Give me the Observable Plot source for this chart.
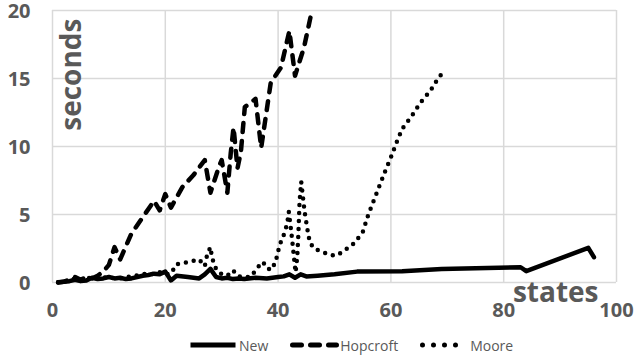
<!DOCTYPE html>
<html>
<head>
<meta charset="utf-8">
<script src="https://cdn.jsdelivr.net/npm/d3@7"></script>
<script src="https://cdn.jsdelivr.net/npm/@observablehq/plot@0.6"></script>
<style>
  html, body { margin: 0; padding: 0; background: #fff; }
  body { width: 635px; height: 360px; overflow: hidden; font-family: "Open Sans", sans-serif; }
  #legend { display: flex; align-items: center; height: 30px; margin-left: 188px; font-size: 14px; color: #595959; }
  #legend .item { display: flex; align-items: center; margin-right: 22px; }
  #legend svg { display: block; margin-right: 1px; }
</style>
</head>
<body>
<div id="chart"></div>
<div id="legend"></div>
<script>
// ---- data ----
const seriesNames = ["New", "Hopcroft", "Moore"];
const xTicks = [0, 20, 40, 60, 80, 100];
const yTicks = [0, 5, 10, 15, 20];

const newStates = [1,3,4,5,6,7,8,9,10,11,12,13,14,16,17,18,19,20,21,22,24,26,27,28,29,30,31,32,33,34,36,38,40,41,42,43,44,45,47,50,54,62,69,83,84,95,96];
const newSeconds = [0.02,0.1,0.2,0.1,0.15,0.35,0.25,0.3,0.4,0.3,0.35,0.25,0.3,0.5,0.55,0.65,0.6,0.8,0.15,0.5,0.4,0.3,0.6,1.0,0.4,0.3,0.35,0.25,0.3,0.25,0.35,0.3,0.4,0.45,0.6,0.35,0.6,0.45,0.5,0.6,0.8,0.83,1.0,1.12,0.83,2.55,1.86];

const hopStates = [1,2,3,4,5,6,7,8,9,10,11,12,14,16,18,19,20,21,23,25,27,28,29.5,30,31,31.6,32.1,32.8,33.4,34.1,36,37,38.7,40.5,42,43,44.6,46];
const hopSeconds = [0,0.05,0.2,0.4,0.2,0.4,0.3,0.5,0.8,1.3,2.6,1.7,3.6,4.8,6.0,5.3,6.5,5.5,7.0,7.9,9.0,6.6,8.5,9.0,6.6,9.5,11.4,8.4,9.6,12.9,13.5,9.9,14.7,15.8,18.5,15.2,17.3,20];

const mooreStates = [1,3,4,5,6,7,8,10,12,14,16,17,18,19,20,21,22,24,26,27,27.4,28,28.3,29,30,31,32,33,35,36.3,37,38,38.5,39.5,40,40.5,41,41.6,41.9,42.2,42.5,42.8,43.1,43.4,43.6,43.8,44.1,44.4,44.7,45.2,45.6,46.3,47.6,49,50.3,51.5,53.5,55,56,57.5,59,60,61,62,63.7,65.2,67,68.5,69.4];
const mooreSeconds = [0.02,0.15,0.3,0.2,0.35,0.3,0.4,0.35,0.3,0.45,0.6,0.7,0.6,0.75,0.6,0.65,1.35,1.5,1.7,1.2,2.0,2.6,1.8,1.0,0.6,0.5,0.9,0.45,0.4,1.0,1.5,1.3,0.9,1.4,2.3,3.0,3.5,4.3,5.2,4.2,3.1,1.9,0.75,1.9,3.6,5.9,7.4,6.3,5.2,3.9,3.0,2.5,2.3,2.05,1.98,2.27,2.9,3.7,5.0,6.6,8.2,9.2,10.3,11.3,12.25,13.2,14.1,15.1,15.5];

const toRows = (xs, ys) => xs.map((x, i) => ({x, y: ys[i]}));
const newRows = toRows(newStates, newSeconds);
const hopRows = toRows(hopStates, hopSeconds);
const mooreRows = toRows(mooreStates, mooreSeconds);

const labelColor = "#595959";
const gridColor = "#d9d9d9";

const chart = Plot.plot({
  width: 635,
  height: 330,
  marginLeft: 52,
  marginRight: 19,
  marginTop: 10,
  marginBottom: 48,
  style: {fontFamily: "'Open Sans', sans-serif", overflow: "visible", background: "white"},
  x: {domain: [0, 100]},
  y: {domain: [0, 20]},
  marks: [
    Plot.gridX(xTicks, {stroke: gridColor, strokeOpacity: 1, strokeWidth: 1.5}),
    Plot.gridY(yTicks, {stroke: gridColor, strokeOpacity: 1, strokeWidth: 1.5}),
    Plot.axisX(xTicks, {tickSize: 0, tickPadding: 20, fontSize: 20, fontWeight: "bold", color: labelColor, label: null}),
    Plot.axisY(yTicks, {tickSize: 0, tickPadding: 22, dy: 1, fontSize: 20, fontWeight: "bold", color: labelColor, label: null}),
    Plot.line(newRows, {x: "x", y: "y", stroke: "black", strokeWidth: 4.5, strokeLinejoin: "round"}),
    Plot.line(hopRows, {x: "x", y: "y", stroke: "black", strokeWidth: 4.5, strokeDasharray: "9,9", strokeLinecap: "round", strokeLinejoin: "round"}),
    Plot.line(mooreRows, {x: "x", y: "y", stroke: "black", strokeWidth: 4.5, strokeDasharray: "0,8", strokeLinecap: "round", strokeLinejoin: "round"}),
    Plot.text(["seconds"], {frameAnchor: "top-left", rotate: -90, textAnchor: "end", lineAnchor: "bottom", dx: 28, dy: 8, fontSize: 28, fontWeight: "bold", fill: labelColor}),
    Plot.text(["states"], {frameAnchor: "bottom-right", textAnchor: "end", lineAnchor: "bottom", dx: -18, dy: 19, fontSize: 28, fontWeight: "bold", fill: labelColor})
  ]
});
document.getElementById("chart").appendChild(chart);

// ---- legend ----
const legendStyles = {
  New: {dash: null, cap: "butt", len: 48},
  Hopcroft: {dash: "9,9", cap: "round", len: 47},
  Moore: {dash: "0,11", cap: "round", len: 47}
};
const legend = d3.select("#legend");
seriesNames.forEach(name => {
  const s = legendStyles[name];
  const item = legend.append("div").attr("class", "item");
  const svg = item.append("svg").attr("width", s.len + 2).attr("height", 10);
  const line = svg.append("line")
    .attr("x1", 2.5).attr("x2", s.len - 0.5).attr("y1", 5).attr("y2", 5)
    .attr("stroke", "black").attr("stroke-width", 5).attr("stroke-linecap", s.cap);
  if (s.dash) line.attr("stroke-dasharray", s.dash);
  item.append("span").text(name);
});
</script>
</body>
</html>
